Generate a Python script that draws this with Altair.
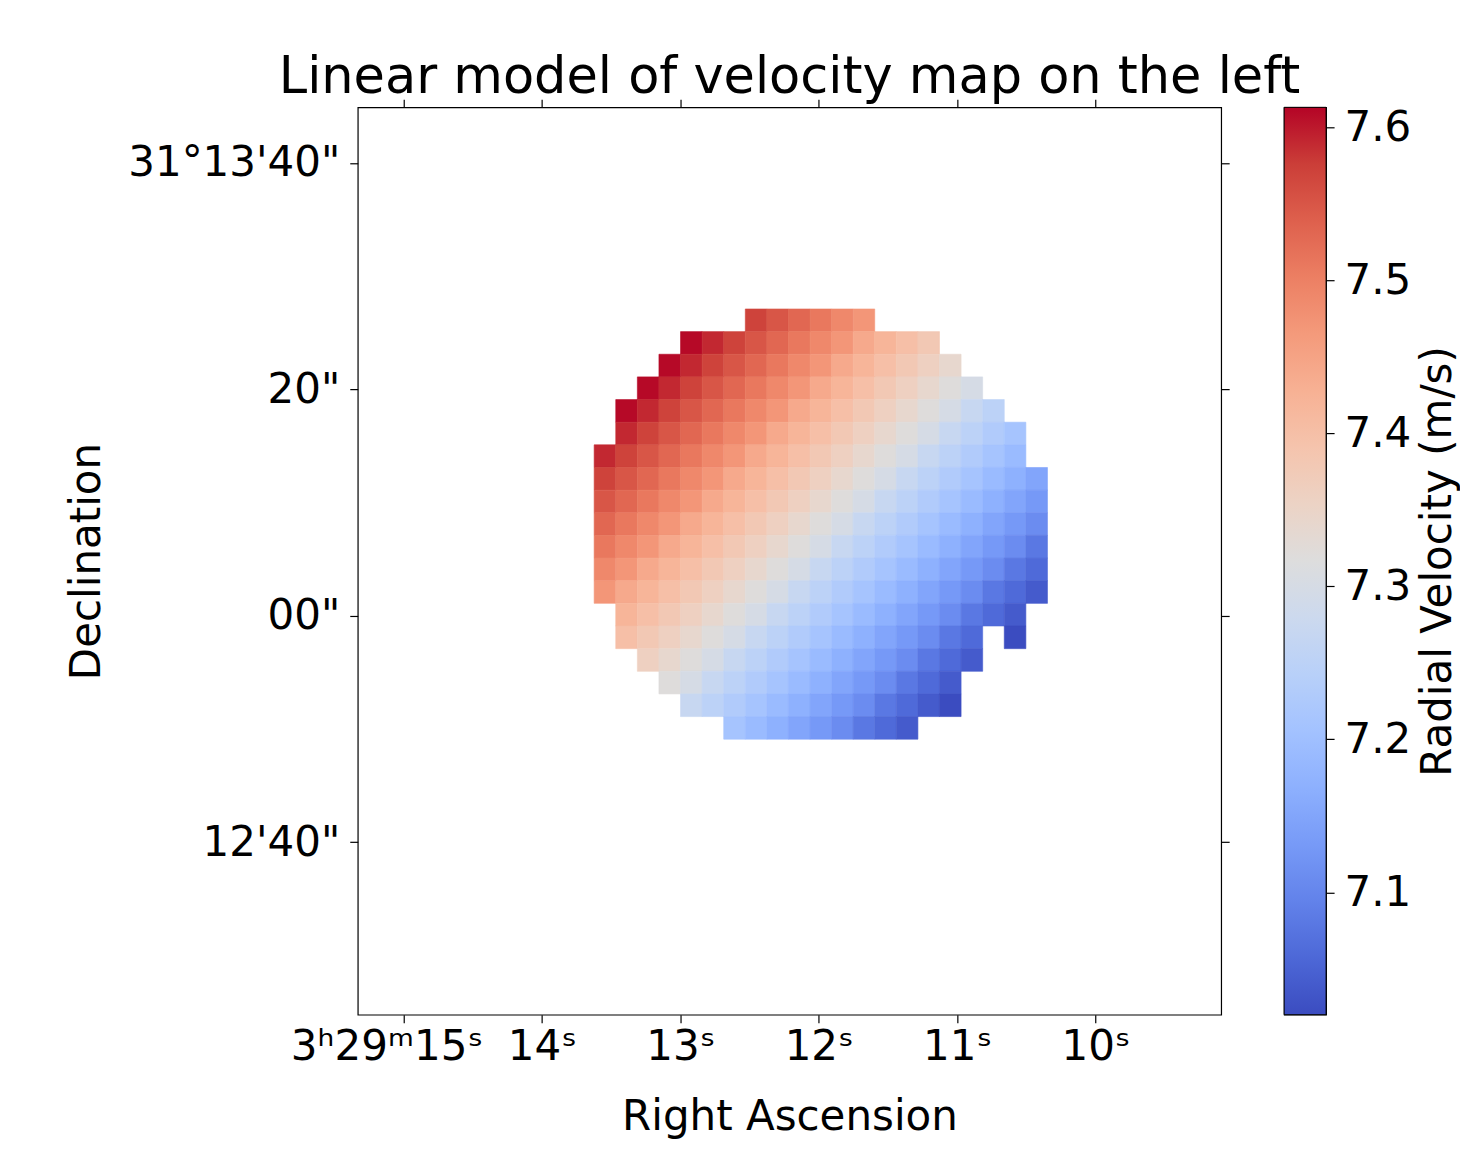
import json
import altair as alt
import pandas as pd

# ---------------- data ----------------
# Pixel edges of the 2"x2" map grid.
# RA in seconds of time after 3h29m; Dec in arcsec offset from +31d13m00s.
ra_edges = [13.622, 13.466, 13.310, 13.154, 12.998, 12.842, 12.686, 12.530,
            12.374, 12.218, 12.062, 11.906, 11.751, 11.595, 11.439, 11.283,
            11.127, 10.971, 10.815, 10.659, 10.503, 10.347]
dec_edges = [27.1, 25.1, 23.1, 21.1, 19.1, 17.1, 15.1, 13.1, 11.1, 9.1, 7.1,
             5.1, 3.1, 1.1, -0.9, -2.9, -4.9, -6.9, -8.9, -10.9]

N = None
# radial velocity per pixel, rows top -> bottom, columns left -> right
velocity_rows = [
    [N, N, N, N, N, N, N, 7.57, 7.55, 7.53, 7.51, 7.49, 7.47, N, N, N, N, N, N, N, N],
    [N, N, N, N, 7.61, 7.59, 7.57, 7.55, 7.53, 7.51, 7.49, 7.47, 7.44, 7.42, 7.40, 7.38, N, N, N, N, N],
    [N, N, N, 7.61, 7.59, 7.57, 7.55, 7.53, 7.51, 7.49, 7.47, 7.44, 7.42, 7.40, 7.38, 7.36, 7.34, N, N, N, N],
    [N, N, 7.61, 7.59, 7.57, 7.55, 7.53, 7.51, 7.49, 7.47, 7.44, 7.42, 7.40, 7.38, 7.36, 7.34, 7.32, 7.30, N, N, N],
    [N, 7.61, 7.59, 7.57, 7.55, 7.53, 7.51, 7.49, 7.47, 7.44, 7.42, 7.40, 7.38, 7.36, 7.34, 7.32, 7.30, 7.27, 7.25, N, N],
    [N, 7.59, 7.57, 7.55, 7.53, 7.51, 7.49, 7.47, 7.44, 7.42, 7.40, 7.38, 7.36, 7.34, 7.32, 7.30, 7.27, 7.25, 7.23, 7.21, N],
    [7.59, 7.57, 7.55, 7.53, 7.51, 7.49, 7.47, 7.44, 7.42, 7.40, 7.38, 7.36, 7.34, 7.32, 7.30, 7.27, 7.25, 7.23, 7.21, 7.19, N],
    [7.57, 7.55, 7.53, 7.51, 7.49, 7.47, 7.44, 7.42, 7.40, 7.38, 7.36, 7.34, 7.32, 7.30, 7.27, 7.25, 7.23, 7.21, 7.19, 7.17, 7.15],
    [7.55, 7.53, 7.51, 7.49, 7.47, 7.44, 7.42, 7.40, 7.38, 7.36, 7.34, 7.32, 7.30, 7.27, 7.25, 7.23, 7.21, 7.19, 7.17, 7.15, 7.13],
    [7.53, 7.51, 7.49, 7.47, 7.44, 7.42, 7.40, 7.38, 7.36, 7.34, 7.32, 7.30, 7.27, 7.25, 7.23, 7.21, 7.19, 7.17, 7.15, 7.13, 7.11],
    [7.51, 7.49, 7.47, 7.44, 7.42, 7.40, 7.38, 7.36, 7.34, 7.32, 7.30, 7.27, 7.25, 7.23, 7.21, 7.19, 7.17, 7.15, 7.13, 7.11, 7.08],
    [7.49, 7.47, 7.44, 7.42, 7.40, 7.38, 7.36, 7.34, 7.32, 7.30, 7.27, 7.25, 7.23, 7.21, 7.19, 7.17, 7.15, 7.13, 7.11, 7.08, 7.06],
    [7.47, 7.44, 7.42, 7.40, 7.38, 7.36, 7.34, 7.32, 7.30, 7.27, 7.25, 7.23, 7.21, 7.19, 7.17, 7.15, 7.13, 7.11, 7.08, 7.06, 7.04],
    [N, 7.42, 7.40, 7.38, 7.36, 7.34, 7.32, 7.30, 7.27, 7.25, 7.23, 7.21, 7.19, 7.17, 7.15, 7.13, 7.11, 7.08, 7.06, 7.04, N],
    [N, 7.40, 7.38, 7.36, 7.34, 7.32, 7.30, 7.27, 7.25, 7.23, 7.21, 7.19, 7.17, 7.15, 7.13, 7.11, 7.08, 7.06, N, 7.02, N],
    [N, N, 7.36, 7.34, 7.32, 7.30, 7.27, 7.25, 7.23, 7.21, 7.19, 7.17, 7.15, 7.13, 7.11, 7.08, 7.06, 7.04, N, N, N],
    [N, N, N, 7.32, 7.30, 7.27, 7.25, 7.23, 7.21, 7.19, 7.17, 7.15, 7.13, 7.11, 7.08, 7.06, 7.04, N, N, N, N],
    [N, N, N, N, 7.27, 7.25, 7.23, 7.21, 7.19, 7.17, 7.15, 7.13, 7.11, 7.08, 7.06, 7.04, 7.02, N, N, N, N],
    [N, N, N, N, N, N, 7.21, 7.19, 7.17, 7.15, 7.13, 7.11, 7.08, 7.06, 7.04, N, N, N, N, N, N],
]

ra_tick_values = [15, 14, 13, 12, 11, 10]
ra_tick_labels = ["3ʰ29ᵐ15ˢ", "14ˢ", "13ˢ", "12ˢ", "11ˢ", "10ˢ"]
dec_tick_values = [40, 20, 0, -20]
dec_tick_labels = ["31°13'40\"", "20\"", "00\"", "12'40\""]
cbar_tick_values = [7.1, 7.2, 7.3, 7.4, 7.5, 7.6]

v_min, v_max = 7.020, 7.613          # colour-bar limits
ra_view = [9.092, 15.330]            # visible RA range (s)
dec_view = [-35.23, 44.91]           # visible Dec range (arcsec)

title_text = "Linear model of velocity map on the left"
x_title = "Right Ascension"
y_title = "Declination"
cbar_title = "Radial Velocity (m/s)"

# matplotlib "coolwarm"
coolwarm = ["#3b4cc0", "#4d68d7", "#6282ea", "#779af7", "#8db0fe", "#a3c2ff",
            "#b8d0f9", "#ccd9ee", "#dddddd", "#ecd3c5", "#f5c4ad", "#f7b194",
            "#f49a7b", "#ec7f63", "#de604d", "#cb3e38", "#b40426"]

# ---------------- build table ----------------
records = []
for r, row in enumerate(velocity_rows):
    for c, v in enumerate(row):
        if v is None:
            continue
        records.append({"ra0": ra_edges[c], "ra1": ra_edges[c + 1],
                        "dec0": dec_edges[r + 1], "dec1": dec_edges[r], "v": v})
df = pd.DataFrame(records)

nstop = len(coolwarm)
color_domain = [v_min + i * (v_max - v_min) / (nstop - 1) for i in range(nstop)]

FONT = "DejaVu Sans"


def label_expr(values, labels):
    return f"{json.dumps(labels, ensure_ascii=False)}[indexof({json.dumps(values)}, datum.value)]"


xs = alt.Scale(domain=ra_view, reverse=True, nice=False, zero=False)
ys = alt.Scale(domain=dec_view, nice=False, zero=False)
cs = alt.Scale(domain=color_domain, range=coolwarm, interpolate="rgb", clamp=True)

base = alt.Chart(df)

cells = base.mark_rect(strokeWidth=0.6).encode(
    x=alt.X("ra0:Q", scale=xs,
            axis=alt.Axis(orient="bottom", values=ra_tick_values,
                          labelExpr=label_expr(ra_tick_values, ra_tick_labels),
                          labelOffset={"condition": {"test": "datum.value == 15", "value": -17},
                                       "value": 0},
                          title=x_title, labelPadding=4, titlePadding=29)),
    x2="ra1:Q",
    y=alt.Y("dec0:Q", scale=ys,
            axis=alt.Axis(orient="left", values=dec_tick_values,
                          labelExpr=label_expr(dec_tick_values, dec_tick_labels),
                          title=y_title, labelPadding=10, titlePadding=49)),
    y2="dec1:Q",
    color=alt.Color("v:Q", scale=cs, legend=None),
    stroke=alt.Stroke("v:Q", scale=cs, legend=None),
)

frame = base.mark_rect(opacity=0).encode(
    x=alt.X("ra0:Q", scale=xs,
            axis=alt.Axis(orient="top", values=ra_tick_values, labels=False, title=None)),
    x2="ra1:Q",
    y=alt.Y("dec0:Q", scale=ys,
            axis=alt.Axis(orient="right", values=dec_tick_values, labels=False, title=None)),
    y2="dec1:Q",
)

heat = alt.layer(cells, frame).resolve_axis(x="independent", y="independent").properties(
    width=864, height=908,
    title=alt.TitleParams(title_text, fontSize=51, font=FONT, fontWeight="normal",
                          color="black", anchor="middle", offset=-5),
)

gradient = alt.Gradient(
    gradient="linear",
    stops=[alt.GradientStop(color=col, offset=i / (nstop - 1)) for i, col in enumerate(coolwarm)],
    x1=0, x2=0, y1=1, y2=0,
)

cbar_df = pd.DataFrame({"lo": [v_min], "hi": [v_max]})
cbar = alt.Chart(cbar_df).mark_rect(color=gradient, stroke="black", strokeWidth=1).encode(
    y=alt.Y("lo:Q", scale=alt.Scale(domain=[v_min, v_max], nice=False, zero=False),
            axis=alt.Axis(orient="right", values=cbar_tick_values, format=".1f",
                          title=cbar_title, titleAngle=270, titleBaseline="top",
                          labelPadding=10, titlePadding=7)),
    y2="hi:Q",
).properties(width=42, height=908)

chart = alt.hconcat(heat, cbar, spacing=63, bounds="flush").properties(
    padding={"left": 57, "top": 42, "right": 0, "bottom": 0},
).configure_view(
    stroke="black", strokeWidth=1.2,
).configure_axis(
    labelFont=FONT, labelFontSize=42, labelColor="black", labelLimit=400,
    titleFont=FONT, titleFontSize=42, titleFontWeight="normal", titleColor="black",
    tickColor="black", tickSize=8, tickWidth=1.2, domain=False, grid=False,
)

chart.save("out.html", embed_options={"renderer": "svg", "actions": False})
